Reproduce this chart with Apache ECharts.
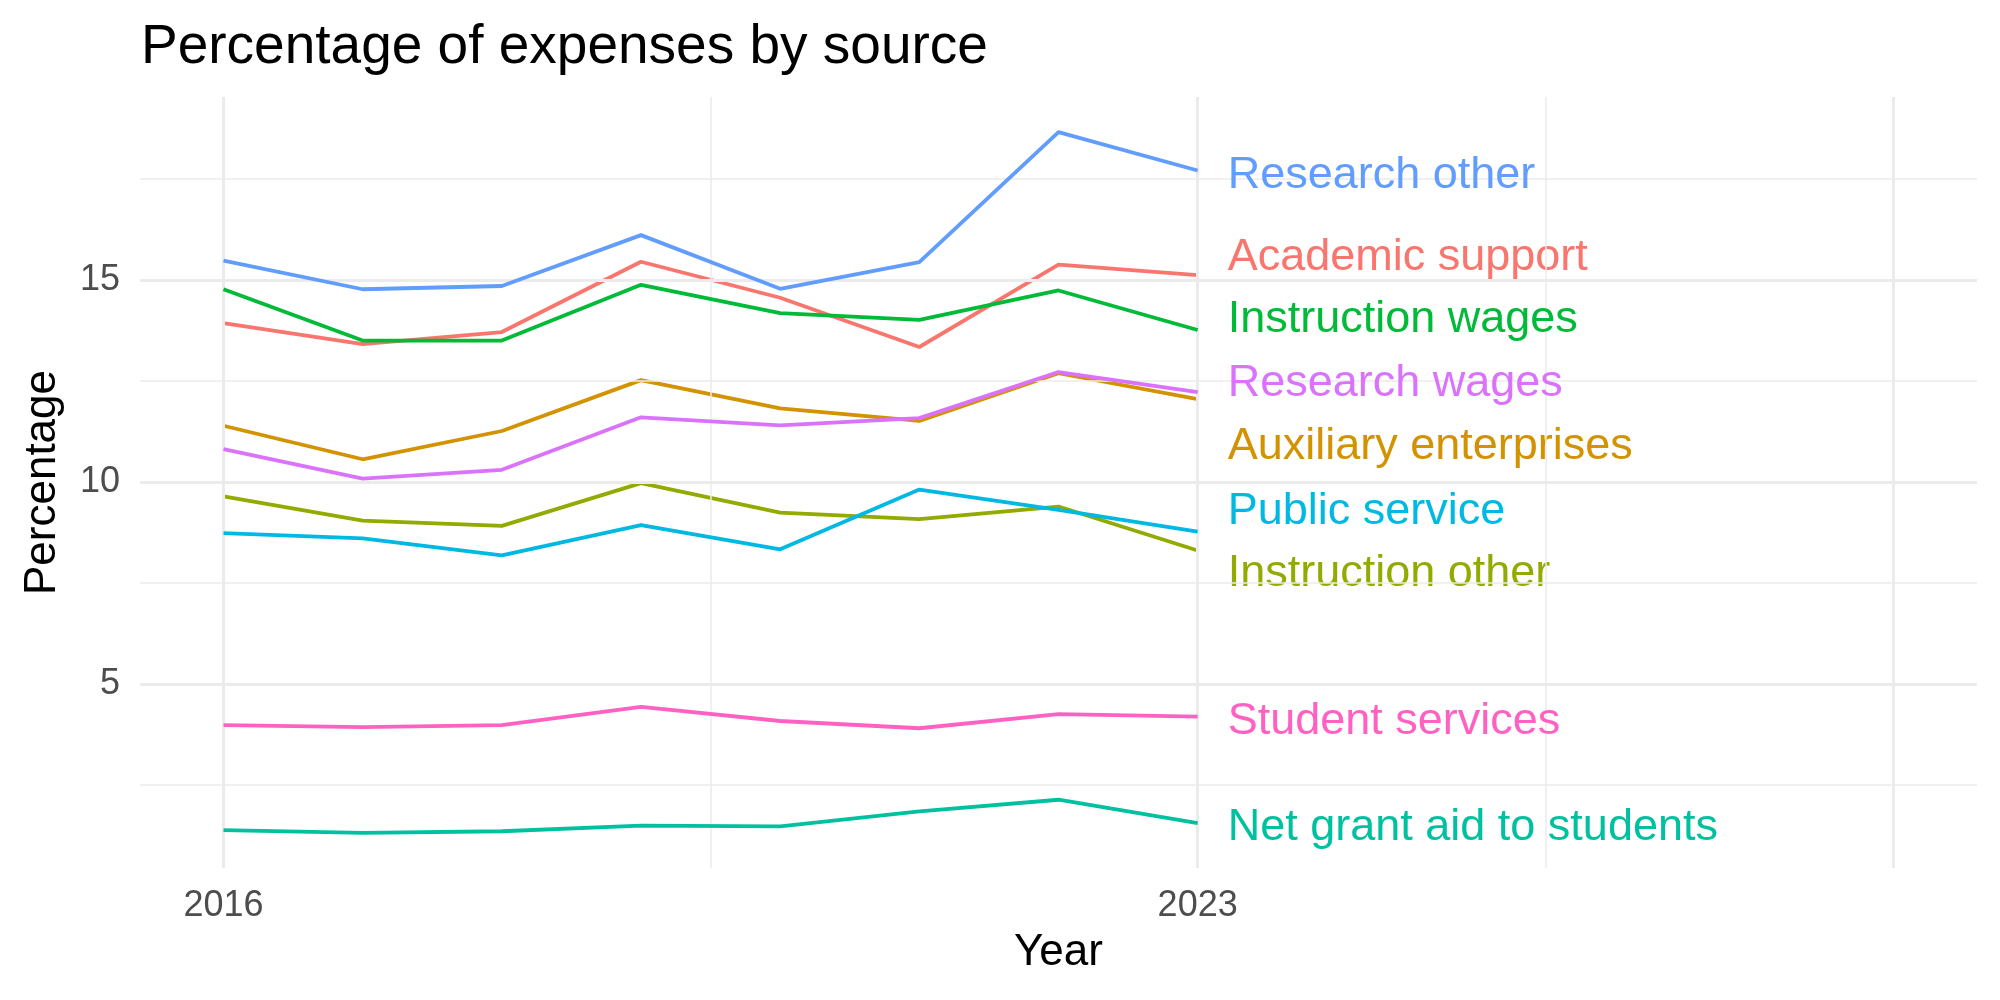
<html>

<head>
    <meta charset="utf-8">
    <title>Percentage of expenses by source</title>
    <script src="https://cdn.jsdelivr.net/npm/echarts@6/dist/echarts.min.js"></script>
</head>

<body style="margin:0">
    <div id="main" style="width: 2000px;height:1000px;"></div>
    <script type="text/javascript">

        var years = [2016, 2017, 2018, 2019, 2020, 2021, 2022, 2023];
        var sources = ['Academic support', 'Auxiliary enterprises', 'Instruction other', 'Instruction wages',
            'Net grant aid to students', 'Public service', 'Research other', 'Research wages', 'Student services'];

        var academicSupport = [13.93, 13.41, 13.71, 15.45, 14.56, 13.34, 15.38, 15.12];
        var auxiliaryEnterprises = [11.39, 10.56, 11.26, 12.52, 11.82, 11.51, 12.69, 12.05];
        var instructionOther = [9.64, 9.04, 8.91, 9.97, 9.24, 9.08, 9.39, 8.30];
        var instructionWages = [14.77, 13.50, 13.50, 14.88, 14.18, 14.01, 14.74, 13.76];
        var netGrantAid = [1.38, 1.31, 1.35, 1.49, 1.47, 1.84, 2.13, 1.55];
        var publicService = [8.73, 8.60, 8.18, 8.93, 8.33, 9.81, 9.31, 8.77];
        var researchOther = [15.48, 14.77, 14.85, 16.11, 14.78, 15.44, 18.66, 17.71];
        var researchWages = [10.81, 10.08, 10.30, 11.60, 11.40, 11.58, 12.72, 12.22];
        var studentServices = [3.98, 3.93, 3.98, 4.43, 4.08, 3.90, 4.25, 4.19];

        var values = [academicSupport, auxiliaryEnterprises, instructionOther, instructionWages,
            netGrantAid, publicService, researchOther, researchWages, studentServices];

        // ggplot hue palette, 9 levels
        var colors = ['#F8766D', '#D39200', '#93AA00', '#00BA38', '#00C19F', '#00B9E3', '#619CFF', '#DB72FB', '#FF61C3'];
        // vertical nudge of the end labels (px), so they don't overlap
        var labelShift = [-18, 47, 23, -10, 4, -20, 5, -9, 5];

        var font = 'Liberation Sans';
        var grid = '#EBEBEB';

        var gridLines = [];
        [2016, 2023, 2028].forEach(function (v) {
            gridLines.push({ xAxis: v, lineStyle: { color: grid, width: 3, type: 'solid' } });
        });
        [2019.5, 2025.5].forEach(function (v) {
            gridLines.push({ xAxis: v, lineStyle: { color: grid, width: 1.5, type: 'solid' } });
        });
        [5, 10, 15].forEach(function (v) {
            gridLines.push({ yAxis: v, lineStyle: { color: grid, width: 3, type: 'solid' } });
        });
        [2.5, 7.5, 12.5, 17.5].forEach(function (v) {
            gridLines.push({ yAxis: v, lineStyle: { color: grid, width: 1.5, type: 'solid' } });
        });

        var series = [{
            type: 'line',
            data: [],
            silent: true,
            z: 0,
            markLine: {
                silent: true,
                symbol: 'none',
                label: { show: false },
                animation: false,
                data: gridLines
            }
        }];

        sources.forEach(function (name, i) {
            series.push({
                name: name,
                type: 'line',
                data: years.map(function (y, j) { return [y, values[i][j]]; }),
                showSymbol: false,
                z: 2 + i,
                lineStyle: { color: colors[i], width: 3.8 },
                itemStyle: { color: colors[i] },
                endLabel: {
                    show: true,
                    formatter: '{a}',
                    color: colors[i],
                    fontFamily: font,
                    fontSize: 45,
                    distance: 30,
                    offset: [0, labelShift[i]]
                }
            });
        });

        var myChart = echarts.init(document.getElementById('main'));
        var option = {
            animation: false,
            title: {
                text: 'Percentage of expenses by source',
                left: 136,
                top: 15,
                textStyle: { fontFamily: font, fontSize: 55, fontWeight: 'normal', color: '#000' }
            },
            grid: { left: 140, right: 23, top: 97, bottom: 132 },
            xAxis: {
                type: 'value',
                min: 2015.4,
                max: 2028.6,
                name: 'Year',
                nameLocation: 'middle',
                nameGap: 63,
                nameTextStyle: { fontFamily: font, fontSize: 44, color: '#000' },
                axisLine: { show: false },
                axisTick: { show: false },
                splitLine: { show: false },
                axisLabel: {
                    customValues: [2016, 2023],
                    formatter: function (v) { return String(v); },
                    fontFamily: font, fontSize: 36, color: '#4D4D4D', margin: 20
                }
            },
            yAxis: {
                type: 'value',
                min: 0.44,
                max: 19.53,
                name: 'Percentage',
                nameLocation: 'middle',
                nameGap: 75,
                nameTextStyle: { fontFamily: font, fontSize: 44, color: '#000' },
                axisLine: { show: false },
                axisTick: { show: false },
                splitLine: { show: false },
                axisLabel: {
                    customValues: [5, 10, 15],
                    fontFamily: font, fontSize: 36, color: '#4D4D4D', margin: 20
                }
            },
            series: series
        };
        myChart.setOption(option);
    </script>
</body>

</html>
